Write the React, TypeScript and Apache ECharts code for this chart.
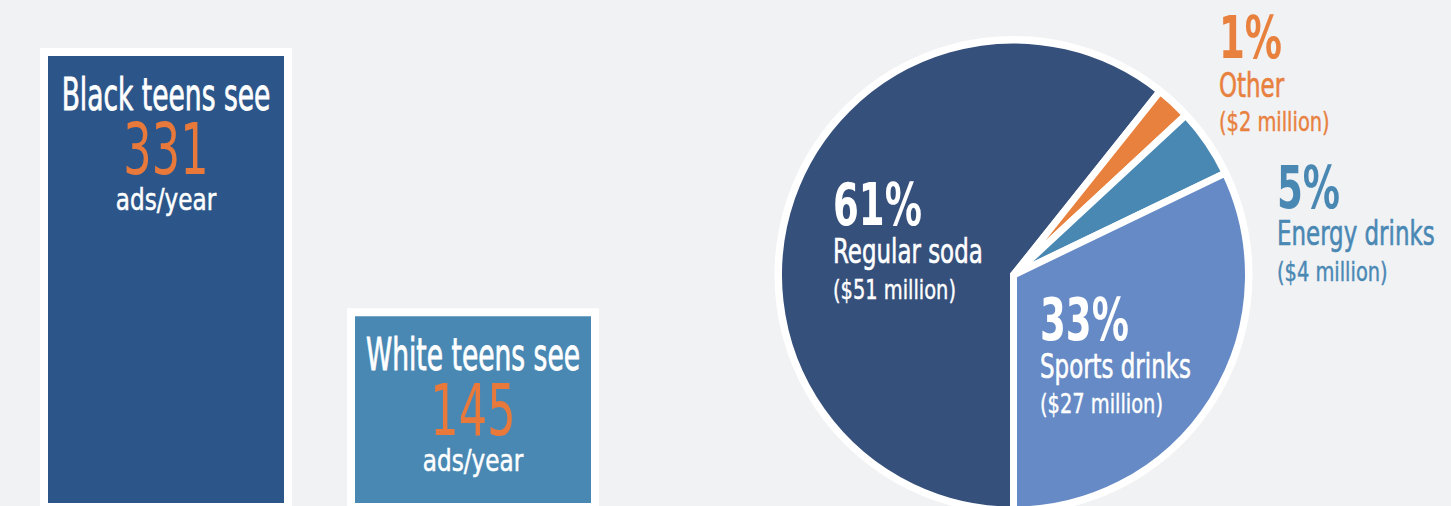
import React, { useEffect, useRef } from "react";
import * as echarts from "echarts";

// ---- data ----
const teenGroups = ["Black teens see", "White teens see"];
const adsPerYear = [331, 145];
const adsUnit = "ads/year";

const drinkTypes = ["Regular soda", "Other", "Energy drinks", "Sports drinks"];
const spendMillions = [51, 2, 4, 27];
const spendShares = ["61%", "1%", "5%", "33%"];

// ---- style / layout ----
const FONT = "'DejaVu Sans Condensed', 'DejaVu Sans', sans-serif";
const BG = "#f1f2f4";
const ORANGE = "#e8793b";
const barColors = ["#2c5689", "#4a88b4"];
const sliceColors = ["#36507c", "#e8803e", "#4a88b4", "#658ac5"];
const sliceLabelColors = ["#ffffff", "#e8803e", "#4a88b4", "#ffffff"];
const PIE_CX = 1013.5;
const PIE_CY = 275;
const PIE_R = 235;
// left x, and vertical centres of the three label lines for each slice
const sliceLabelPos = [
  { x: 833, y: [204.6, 251.2, 290.5] },
  { x: 1219, y: [37.9, 84.9, 122.7] },
  { x: 1277, y: [187.9, 233.2, 272.7] },
  { x: 1040, y: [319.6, 366.2, 404.3] },
];
const barTextOffsets = [47, 102, 152];
const barTextStyle = [
  { fontSize: 44, scaleX: 0.67, color: "#ffffff", stroke: 0.8, weight: "normal" },
  { fontSize: 72, scaleX: 0.69, color: ORANGE, stroke: 0, weight: "normal" },
  { fontSize: 31, scaleX: 0.83, color: "#ffffff", stroke: 0.5, weight: "normal" },
];
const pieTextStyle = [
  { fontSize: 59, scaleX: 0.7, stroke: 0, weight: "bold" },
  { fontSize: 34, scaleX: 0.75, stroke: 0.6, weight: "normal" },
  { fontSize: 26, scaleX: 0.83, stroke: 0.4, weight: "normal" },
];

function txt(text: string, x: number, y: number, st: any, fill: string, align: string) {
  return {
    type: "text",
    x,
    y,
    scaleX: st.scaleX,
    z: 20,
    silent: true,
    style: {
      text,
      fill,
      stroke: st.stroke ? fill : null,
      lineWidth: st.stroke || 0,
      fontSize: st.fontSize,
      fontWeight: st.weight,
      fontFamily: FONT,
      align,
      verticalAlign: "middle",
    },
  };
}

export default function App() {
  const ref = useRef<HTMLDivElement>(null);
  useEffect(() => {
    if (!ref.current) return;
    const chart = echarts.init(ref.current, undefined, { renderer: "svg" });
    const option: any = {
      animation: false,
      backgroundColor: BG,
      grid: {
        left: 12.5,
        width: 614,
        top: 7,
        height: 504,
      },
      xAxis: { type: "category", data: teenGroups, show: false },
      yAxis: { type: "value", min: 0, max: 360.3, show: false },
      series: [
        {
          type: "bar",
          barWidth: 252,
          silent: true,
          data: adsPerYear.map((v, i) => ({
            value: v,
            itemStyle: { color: barColors[i], borderColor: "#ffffff", borderWidth: 8 },
          })),
        },
        {
          type: "pie",
          center: [PIE_CX, PIE_CY],
          radius: PIE_R,
          startAngle: -90,
          clockwise: true,
          silent: true,
          z: 3,
          emphasis: { disabled: true },
          itemStyle: { borderColor: "#ffffff", borderWidth: 7 },
          label: { show: false },
          labelLine: { show: false },
          data: drinkTypes.map((name, i) => ({
            name,
            value: spendMillions[i],
            itemStyle: { color: sliceColors[i] },
          })),
        },
      ],
    };
    chart.setOption(option);

    const elements: any[] = [
      {
        type: "circle",
        z: 1,
        silent: true,
        shape: { cx: PIE_CX, cy: PIE_CY, r: PIE_R + 4 },
        style: { fill: "#ffffff" },
      },
    ];
    teenGroups.forEach((g, i) => {
      const [px, py] = chart.convertToPixel({ seriesIndex: 0 }, [g, adsPerYear[i]]) as number[];
      const lines = [g, String(adsPerYear[i]), adsUnit];
      lines.forEach((t, k) => {
        elements.push(
          txt(t, px, py + barTextOffsets[k], barTextStyle[k], barTextStyle[k].color, "center")
        );
      });
    });
    drinkTypes.forEach((name, i) => {
      const pos = sliceLabelPos[i];
      const lines = [spendShares[i], name, `($${spendMillions[i]} million)`];
      lines.forEach((t, k) => {
        elements.push(txt(t, pos.x, pos.y[k], pieTextStyle[k], sliceLabelColors[i], "left"));
      });
    });
    chart.setOption({ graphic: { elements } });
    return () => chart.dispose();
  }, []);
  return (
    <div
      ref={ref}
      style={{ position: "fixed", left: 0, top: 0, width: 1451, height: 520 }}
    />
  );
}
